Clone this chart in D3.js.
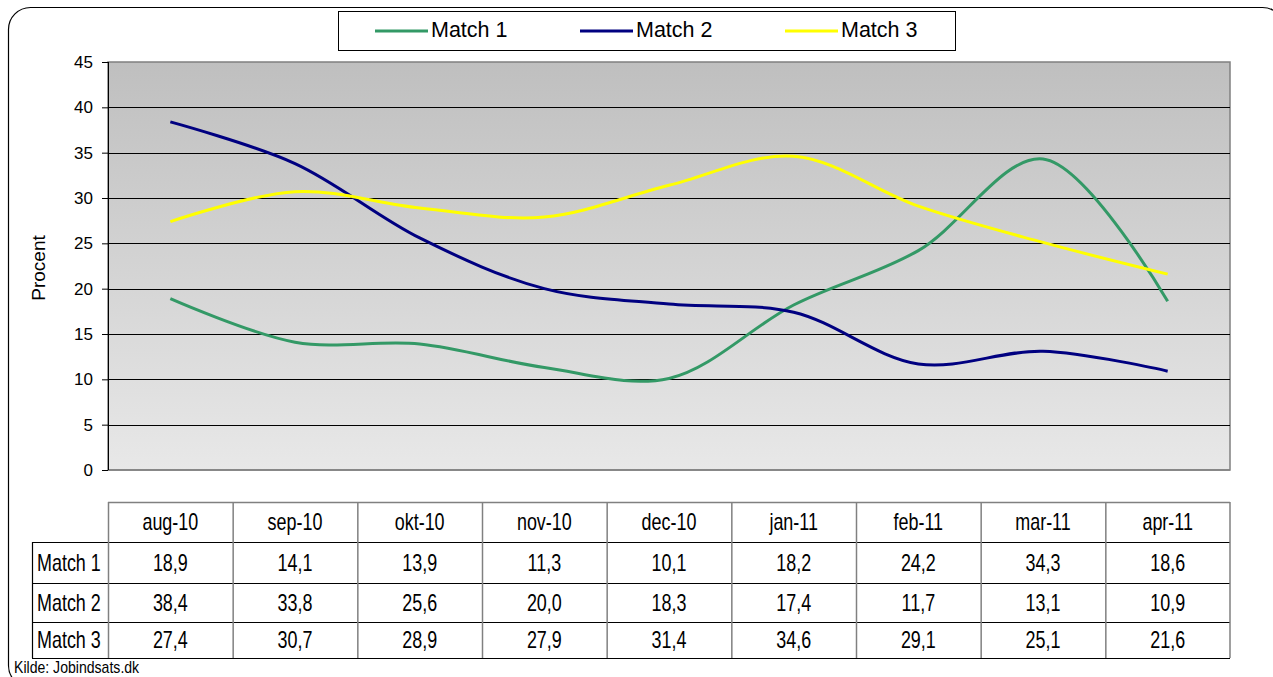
<!DOCTYPE html>
<html><head><meta charset="utf-8">
<script src="https://cdn.jsdelivr.net/npm/d3@7"></script>
<style>
html,body{margin:0;padding:0;background:#fff;}
svg{display:block;}
</style></head>
<body>
<svg id="chart" width="1273" height="677"></svg>
<script>
const categories = ["aug-10","sep-10","okt-10","nov-10","dec-10","jan-11","feb-11","mar-11","apr-11"];
const seriesNames = ["Match 1","Match 2","Match 3"];
const match1 = [18.9,14.1,13.9,11.3,10.1,18.2,24.2,34.3,18.6];
const match2 = [38.4,33.8,25.6,20.0,18.3,17.4,11.7,13.1,10.9];
const match3 = [27.4,30.7,28.9,27.9,31.4,34.6,29.1,25.1,21.6];
const seriesColors = ["#339966","#000080","#FFFF00"];
const yTicks = [0,5,10,15,20,25,30,35,40,45];
const series = [match1, match2, match3];

const regular = "'Liberation Sans',Arial,sans-serif";
const narrowScale = 0.78;

const svg = d3.select("#chart");
const defs = svg.append("defs");
const grad = defs.append("linearGradient").attr("id","bg").attr("x1",0).attr("y1",0).attr("x2",0).attr("y2",1);
grad.append("stop").attr("offset","0%").attr("stop-color","#bfbfbf");
grad.append("stop").attr("offset","100%").attr("stop-color","#e8e8e8");

// outer border
svg.append("rect").attr("x",8.5).attr("y",7.5).attr("width",1276).attr("height",680)
  .attr("rx",22).attr("ry",22).attr("fill","none").attr("stroke","#000").attr("stroke-width",1.2);

const pLeft = 108, pRight = 1230, pTop = 62, pBottom = 470;
const x = d3.scaleBand().domain(categories).range([pLeft,pRight]);
const y = d3.scaleLinear().domain([0,45]).range([pBottom,pTop]);

// plot background
svg.append("rect").attr("x",pLeft).attr("y",pTop).attr("width",pRight-pLeft).attr("height",pBottom-pTop)
  .attr("fill","url(#bg)").attr("stroke","#808080").attr("stroke-width",1.5);

// gridlines
svg.append("g").selectAll("line").data(yTicks.filter(t=>t>0&&t<45)).join("line")
  .attr("x1",pLeft).attr("x2",pRight).attr("y1",d=>Math.round(y(d))+0.5).attr("y2",d=>Math.round(y(d))+0.5)
  .attr("stroke","#000").attr("stroke-width",1);

// y axis
const yAxis = d3.axisLeft(y).tickValues(yTicks).tickSize(6).tickPadding(9).tickFormat(d3.format("d"));
const ga = svg.append("g").attr("transform",`translate(${pLeft},0)`).call(yAxis);
ga.select(".domain").remove();
ga.selectAll(".tick line").attr("stroke","#000");
ga.selectAll(".tick text").attr("font-family",regular).attr("font-size",17).attr("fill","#000");
svg.append("line").attr("x1",pLeft).attr("x2",pRight).attr("y1",pBottom).attr("y2",pBottom).attr("stroke","#808080").attr("stroke-width",1.5);
svg.append("line").attr("x1",pLeft+0.5).attr("x2",pLeft+0.5).attr("y1",pTop).attr("y2",pBottom).attr("stroke","#000").attr("stroke-width",1);

// y title
svg.append("text").attr("transform",`translate(45,268) rotate(-90)`)
  .attr("text-anchor","middle").attr("font-family",regular).attr("font-size",19).text("Procent");

// lines
const line = d3.line().x((d,i)=>x(categories[i])+x.bandwidth()/2).y(d=>y(d)).curve(d3.curveCatmullRom.alpha(0.5));
series.forEach((s,k)=>{
  svg.append("path").datum(s).attr("d",line).attr("fill","none")
    .attr("stroke",seriesColors[k]).attr("stroke-width",3).attr("stroke-linejoin","round");
});

// legend
svg.append("rect").attr("x",338.5).attr("y",11.5).attr("width",617).attr("height",39)
  .attr("fill","#fff").attr("stroke","#000").attr("stroke-width",1);
const legX = [375,580,785];
seriesNames.forEach((n,k)=>{
  svg.append("line").attr("x1",legX[k]).attr("x2",legX[k]+53).attr("y1",31).attr("y2",31)
    .attr("stroke",seriesColors[k]).attr("stroke-width",3);
  svg.append("text").attr("x",legX[k]+56).attr("y",37).attr("font-family",regular).attr("font-size",21.5)
    .text(n);
});

// data table
const rowY = [502,542,583,622,658];
const labLeft = 32;
const tg = svg.append("g");
function narrowText(cx, cy, txt, anchor){
  tg.append("text").attr("transform",`translate(${cx},${cy}) scale(${narrowScale},1)`)
    .attr("text-anchor",anchor).attr("font-family",regular).attr("font-size",23).attr("fill","#000").text(txt);
}
categories.forEach((c,i)=>{
  narrowText(x(c)+x.bandwidth()/2, (rowY[0]+rowY[1])/2+8, c, "middle");
});
series.forEach((s,r)=>{
  const cy = (rowY[r+1]+rowY[r+2])/2+8;
  narrowText(labLeft+5, cy, seriesNames[r], "start");
  s.forEach((v,i)=>{
    narrowText(x(categories[i])+x.bandwidth()/2, cy, v.toFixed(1).replace(".",","), "middle");
  });
});
tg.append("line").attr("x1",pLeft).attr("x2",pRight).attr("y1",rowY[0]+0.5).attr("y2",rowY[0]+0.5).attr("stroke","#808080").attr("stroke-width",1.5);
[1,2,3,4].forEach(j=>{
  tg.append("line").attr("x1",labLeft).attr("x2",pRight).attr("y1",rowY[j]+0.5).attr("y2",rowY[j]+0.5).attr("stroke","#000").attr("stroke-width",1.2);
});
categories.forEach((c,i)=>{
  tg.append("line").attr("x1",x(c)+0.5).attr("x2",x(c)+0.5).attr("y1",rowY[0]).attr("y2",rowY[4]).attr("stroke","#808080").attr("stroke-width",1.5);
});
tg.append("line").attr("x1",pRight).attr("x2",pRight).attr("y1",rowY[0]).attr("y2",rowY[4]).attr("stroke","#808080").attr("stroke-width",1.5);
tg.append("line").attr("x1",labLeft+0.5).attr("x2",labLeft+0.5).attr("y1",rowY[1]).attr("y2",rowY[4]).attr("stroke","#000").attr("stroke-width",1.2);

// source
svg.append("text").attr("transform","translate(14,673) scale(0.88,1)").attr("font-family",regular).attr("font-size",16).text("Kilde: Jobindsats.dk");
</script>
</body></html>
